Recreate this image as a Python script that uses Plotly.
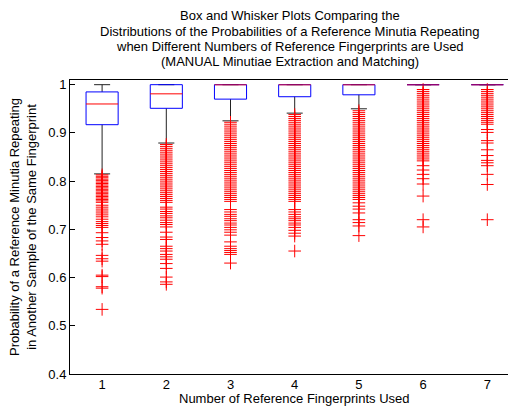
import plotly.graph_objects as go

# ---- data ----
groups = [1, 2, 3, 4, 5, 6, 7]
tick_labels = ["1", "2", "3", "4", "5", "6", "7"]
q1 = [0.917, 0.951, 0.970, 0.975, 0.979, 1.000, 1.000]
median = [0.960, 0.981, 1.000, 1.000, 1.000, 1.000, 1.000]
q3 = [0.985, 1.000, 1.000, 1.000, 1.000, 1.000, 1.000]
lower_whisker = [0.815, 0.879, 0.925, 0.941, 0.950, 1.000, 1.000]
upper_whisker = [1.000, 1.000, 1.000, 1.000, 1.000, 1.000, 1.000]

outliers_1 = [0.813, 0.810, 0.807, 0.804, 0.801, 0.798, 0.795, 0.792, 0.789, 0.786,
              0.783, 0.780, 0.777, 0.774, 0.771, 0.768, 0.765, 0.762, 0.759, 0.756,
              0.750, 0.746, 0.742, 0.738, 0.734, 0.730, 0.726, 0.721, 0.716, 0.712,
              0.708, 0.704, 0.693, 0.683, 0.676, 0.669, 0.646, 0.639, 0.634, 0.605,
              0.602, 0.581, 0.578, 0.534]
outliers_2 = [0.876, 0.872, 0.868, 0.864, 0.860, 0.856, 0.852, 0.848, 0.844, 0.840,
              0.836, 0.832, 0.828, 0.824, 0.820, 0.816, 0.812, 0.808, 0.804, 0.800,
              0.796, 0.792, 0.788, 0.784, 0.780, 0.776, 0.772, 0.768, 0.764, 0.760,
              0.756, 0.746, 0.742, 0.737, 0.733, 0.728, 0.724, 0.719, 0.714, 0.710,
              0.705, 0.694, 0.684, 0.679, 0.665, 0.660, 0.655, 0.648, 0.643, 0.638,
              0.629, 0.619, 0.601, 0.591, 0.586]
outliers_3 = [0.922, 0.918, 0.914, 0.910, 0.906, 0.902, 0.898, 0.894, 0.890, 0.886,
              0.882, 0.878, 0.874, 0.870, 0.866, 0.862, 0.858, 0.854, 0.850, 0.846,
              0.842, 0.838, 0.834, 0.830, 0.826, 0.822, 0.818, 0.814, 0.810, 0.806,
              0.802, 0.798, 0.794, 0.790, 0.786, 0.782, 0.778, 0.774, 0.770, 0.766,
              0.762, 0.758, 0.741, 0.736, 0.731, 0.727, 0.722, 0.718, 0.713, 0.709,
              0.704, 0.699, 0.694, 0.688, 0.674, 0.665, 0.660, 0.656, 0.652, 0.648,
              0.630]
outliers_4 = [0.938, 0.934, 0.930, 0.926, 0.922, 0.918, 0.914, 0.910, 0.906, 0.902,
              0.898, 0.894, 0.890, 0.886, 0.882, 0.878, 0.874, 0.870, 0.866, 0.862,
              0.858, 0.854, 0.850, 0.846, 0.842, 0.838, 0.834, 0.830, 0.826, 0.822,
              0.818, 0.814, 0.810, 0.806, 0.802, 0.798, 0.794, 0.790, 0.786, 0.782,
              0.778, 0.774, 0.770, 0.766, 0.762, 0.758, 0.741, 0.736, 0.731, 0.726,
              0.722, 0.718, 0.713, 0.709, 0.704, 0.698, 0.692, 0.686, 0.655]
outliers_5 = [0.946, 0.942, 0.938, 0.934, 0.930, 0.926, 0.922, 0.918, 0.914, 0.910,
              0.906, 0.902, 0.898, 0.894, 0.890, 0.886, 0.882, 0.878, 0.874, 0.870,
              0.866, 0.862, 0.858, 0.854, 0.850, 0.846, 0.842, 0.838, 0.834, 0.830,
              0.826, 0.822, 0.818, 0.814, 0.810, 0.806, 0.802, 0.798, 0.794, 0.790,
              0.786, 0.782, 0.778, 0.774, 0.770, 0.766, 0.762, 0.755, 0.748, 0.742,
              0.734, 0.720, 0.714, 0.707, 0.687]
outliers_6 = [0.990, 0.986, 0.982, 0.978, 0.974, 0.970, 0.966, 0.962, 0.958, 0.954,
              0.950, 0.946, 0.942, 0.938, 0.934, 0.930, 0.926, 0.922, 0.918, 0.914,
              0.910, 0.906, 0.902, 0.898, 0.894, 0.890, 0.886, 0.882, 0.878, 0.874,
              0.870, 0.866, 0.862, 0.858, 0.854, 0.850, 0.846, 0.842, 0.832, 0.823,
              0.814, 0.805, 0.794, 0.769, 0.720, 0.705]
outliers_7 = [0.990, 0.986, 0.982, 0.978, 0.974, 0.970, 0.966, 0.962, 0.958, 0.954,
              0.950, 0.946, 0.942, 0.938, 0.934, 0.930, 0.926, 0.922, 0.918, 0.907,
              0.901, 0.884, 0.879, 0.865, 0.853, 0.843, 0.838, 0.832, 0.814, 0.793,
              0.720]
outliers = [outliers_1, outliers_2, outliers_3, outliers_4, outliers_5, outliers_6, outliers_7]

title_lines = ["Box and Whisker Plots Comparing the",
               "Distributions of the Probabilities of a Reference Minutia Repeating",
               "when Different Numbers of Reference Fingerprints are Used",
               "(MANUAL Minutiae Extraction and Matching)"]
x_title = "Number of Reference Fingerprints Used"
y_title_lines = ["Probability of a Reference Minutia Repeating",
                 "in Another Sample of the Same Fingerprint"]
y_ticks = [0.4, 0.5, 0.6, 0.7, 0.8, 0.9, 1.0]
y_tick_text = ["0.4", "0.5", "0.6", "0.7", "0.8", "0.9", "1"]

# ---- styling ----
BOX_HALF = 0.25
CAP_HALF = 0.125
FONT = "Liberation Sans, Arial, sans-serif"
FS = 13
title_y = [1.2207, 1.1664, 1.1138, 1.0628]

wx, wy = [], []
for g, lo, hi, a, b in zip(groups, lower_whisker, upper_whisker, q1, q3):
    wx += [g, g, None, g, g, None, g - CAP_HALF, g + CAP_HALF, None, g - CAP_HALF, g + CAP_HALF, None]
    wy += [b, hi, None, a, lo, None, hi, hi, None, lo, lo, None]

bx, by = [], []
for g, a, b in zip(groups, q1, q3):
    bx += [g - BOX_HALF, g + BOX_HALF, g + BOX_HALF, g - BOX_HALF, g - BOX_HALF, None]
    by += [a, a, b, b, a, None]

# medians inside a box: pure red; medians lying on the box edge blend with blue (purple)
mx_in, my_in, mx_edge, my_edge = [], [], [], []
for g, m, b in zip(groups, median, q3):
    if m < b:
        mx_in += [g - BOX_HALF, g + BOX_HALF, None]
        my_in += [m, m, None]
    else:
        mx_edge += [g - BOX_HALF, g + BOX_HALF, None]
        my_edge += [m, m, None]

ox, oy = [], []
for g, vals in zip(groups, outliers):
    ox += [g] * len(vals)
    oy += vals

fig = go.Figure()
fig.add_trace(go.Scatter(x=wx, y=wy, mode="lines", line=dict(color="#222222", width=1),
                         hoverinfo="skip", showlegend=False))
fig.add_trace(go.Scatter(x=ox, y=oy, mode="markers",
                         marker=dict(symbol="cross-thin", size=9, line=dict(color="#ff0000", width=1)),
                         showlegend=False))
fig.add_trace(go.Scatter(x=bx, y=by, mode="lines", line=dict(color="#0000ff", width=1),
                         hoverinfo="skip", showlegend=False))
fig.add_trace(go.Scatter(x=mx_in, y=my_in, mode="lines", line=dict(color="#ff0000", width=1),
                         hoverinfo="skip", showlegend=False))
fig.add_trace(go.Scatter(x=mx_edge, y=my_edge, mode="lines", line=dict(color="rgba(255,0,0,0.55)", width=1.5),
                         hoverinfo="skip", showlegend=False))

annotations = [
    dict(text=line, xref="paper", yref="paper", x=0.493, y=ty,
         xanchor="center", yanchor="middle", showarrow=False,
         font=dict(size=FS, family=FONT, color="black"))
    for line, ty in zip(title_lines, title_y)
]
annotations += [
    dict(text=x_title, xref="paper", yref="paper", x=0.503, y=-0.0845,
         xanchor="center", yanchor="middle", showarrow=False,
         font=dict(size=FS, family=FONT, color="black")),
    dict(text="<br>".join(y_title_lines), xref="paper", yref="paper", x=-0.1054, y=0.50,
         xanchor="center", yanchor="middle", showarrow=False, textangle=-90,
         font=dict(size=FS, family=FONT, color="black")),
]

# the page body adds an 8px margin, so the figure is 8px smaller on each axis
fig.update_layout(
    width=508, height=400,
    margin=dict(l=62, r=0, t=72, b=33.5),
    paper_bgcolor="white", plot_bgcolor="white",
    font=dict(family=FONT, size=FS, color="black"),
    showlegend=False,
    xaxis=dict(range=[0.5, 7.447], tickmode="array", tickvals=groups, ticktext=tick_labels,
               showline=True, linecolor="black", linewidth=1, mirror=True,
               ticks="", showgrid=False, zeroline=False, ticklabelstandoff=-2,
               tickfont=dict(size=FS, family=FONT, color="black")),
    yaxis=dict(range=[0.4, 1.0097], tickmode="array", tickvals=y_ticks, ticktext=y_tick_text,
               showline=True, linecolor="black", linewidth=1,
               ticks="inside", ticklen=5, tickcolor="black",
               showgrid=False, zeroline=False,
               tickfont=dict(size=FS, family=FONT, color="black")),
    yaxis2=dict(range=[0.4, 1.0097], overlaying="y", side="right", tickmode="array",
                tickvals=y_ticks, showticklabels=False, ticks="inside", ticklen=5,
                tickcolor="black", showline=False, showgrid=False, zeroline=False),
    annotations=annotations,
)

fig.write_html("out.html")
